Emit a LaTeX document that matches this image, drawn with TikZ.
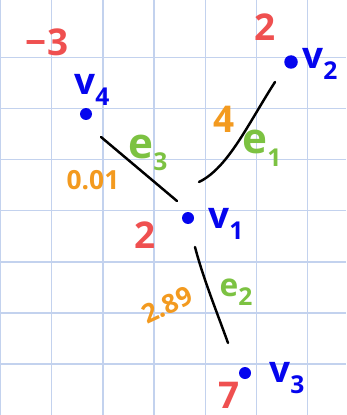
\documentclass[tikz,border=0pt]{standalone}
\usepackage{fontspec}
\setmainfont{Open Sans}
\usepackage{tikz}
\usetikzlibrary{positioning}
\definecolor{cuadro}{HTML}{C3D2EE}
\definecolor{rojo}{HTML}{EF5050}
\definecolor{naranja}{HTML}{F39A1F}
\definecolor{verde}{HTML}{7CC242}
\definecolor{azul}{HTML}{0505EE}
\tikzset{
  malla/.style={draw=cuadro,line width=0.7pt},
  vert/.style={circle,fill=azul,inner sep=0pt,minimum size=2.4mm},
  vnom/.style={text=azul,font=\fontsize{21}{21}\selectfont\bfseries,inner sep=0pt},
  peso/.style={text=rojo,font=\fontsize{21}{21}\selectfont\bfseries,inner sep=0pt},
  costo/.style={text=naranja,font=\fontsize{15}{15}\selectfont\bfseries,inner sep=0pt},
  enom/.style={text=verde,font=\fontsize{24}{24}\selectfont\bfseries,inner sep=0pt},
  arco/.style={draw=black,line width=1.4pt,line cap=round},
}
\newcommand{\subi}[1]{\raisebox{-0.55ex}{\fontsize{14}{14}\selectfont #1}}
\begin{document}
\begin{tikzpicture}[x=0.02cm,y=-0.02cm]
\useasboundingbox (0,0) rectangle (346,415);
\fill[white] (0,0) rectangle (346,415);
% cuadricula
\foreach \gx in {0.5,51.7,102.9,154.1,205.3,256.5,307.7}
  \draw[malla] (\gx,0) -- (\gx,415);
\foreach \gy in {57.5,108.6,159.7,210.8,261.9,313,364.1}
  \draw[malla] (0,\gy) -- (346,\gy);
% vertices
\node[vert] (v1) at (188,218) {};
\node[vert,minimum width=2.7mm] (v2) at (291,62) {};
\node[vert] (v3) at (245,373) {};
\node[vert] (v4) at (86,114) {};
% aristas
\coordinate (a3) at (101,137);
\coordinate (b3) at (177,201);
\coordinate (a1) at (275,82);
\coordinate (b1) at (199,182);
\coordinate (a2) at (195,247);
\coordinate (b2) at (228,343);
\draw[arco] (a3) -- (b3);
\draw[arco] (a1) .. controls (248,124) and (228,168) .. (b1);
\draw[arco] (a2) .. controls (203,278) and (218,315) .. (b2);
% nombres
\node[vnom] (n1) at (226,224) {v\subi{1}};
\node[vnom] (n2) at (320,64) {v\subi{2}};
\node[vnom] (n3) at (287,378) {v\subi{3}};
\node[vnom] (n4) at (92,90) {v\subi{4}};
% pesos
\node[peso] (p1) at (145,235) {2};
\node[peso] (p2) at (265,27) {2};
\node[peso] (p3) at (229,395) {7};
\node[peso] (p4) at (47,42) {−3};
% costos
\node[costo,font=\fontsize{21}{21}\selectfont\bfseries] (c1) at (224,119) {4};
\node[costo,rotate=25] (c2) at (167,305) {2.89};
\node[costo] (c3) at (93,180) {0.01};
% etiquetas
\node[enom] (e1) at (262,148) {e\subi{1}};
\node[enom,font=\fontsize{18}{18}\selectfont\bfseries] (e2) at (236,292) {e\subi{2}};
\node[enom] (e3) at (148,153) {e\subi{3}};
\end{tikzpicture}
\end{document}
